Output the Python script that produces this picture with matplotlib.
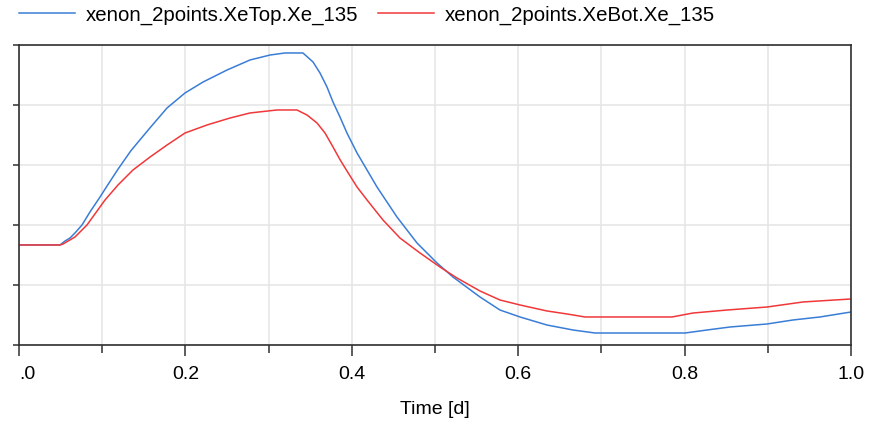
import matplotlib
matplotlib.use('Agg')
import matplotlib.pyplot as plt
from matplotlib.ticker import MultipleLocator

plt.rcParams['font.family'] = ['Liberation Sans', 'DejaVu Sans']

# values (y in grid units, axis has no visible labels)
t_top = [0.0, 0.0493, 0.0553, 0.0613, 0.0673, 0.0757, 0.0853, 0.0974, 0.1058, 0.1190,
         0.1346, 0.1575, 0.1779, 0.1995, 0.2212, 0.2500, 0.2776, 0.3017, 0.3197, 0.3413,
         0.3534, 0.3618, 0.3702, 0.3774, 0.3858, 0.3942, 0.4063, 0.4183, 0.4303, 0.4543,
         0.4784, 0.5024, 0.5216, 0.5541, 0.5781, 0.6022, 0.6346, 0.6659, 0.6923, 0.8005,
         0.8269, 0.8546, 0.8990, 0.9303, 0.9627, 1.0]
xe_top = [1.667, 1.667, 1.733, 1.783, 1.867, 2.0, 2.217, 2.467, 2.65, 2.93,
          3.24, 3.62, 3.95, 4.20, 4.383, 4.583, 4.75, 4.833, 4.867, 4.867,
          4.717, 4.533, 4.30, 4.05, 3.80, 3.533, 3.20, 2.917, 2.633, 2.133,
          1.70, 1.367, 1.133, 0.80, 0.583, 0.467, 0.333, 0.25, 0.20, 0.20,
          0.25, 0.30, 0.35, 0.417, 0.467, 0.55]

t_bot = [0.0, 0.0493, 0.0529, 0.0673, 0.0817, 0.1034, 0.1190, 0.1370, 0.1575, 0.1779,
         0.1995, 0.2260, 0.2536, 0.2776, 0.3101, 0.3341, 0.3462, 0.3582, 0.3678, 0.3762,
         0.3858, 0.3942, 0.4063, 0.4183, 0.4375, 0.4579, 0.4820, 0.5060, 0.5264, 0.5541,
         0.5781, 0.6022, 0.6346, 0.6587, 0.6803, 0.7849, 0.8101, 0.8510, 0.8990, 0.9423, 1.0]
xe_bot = [1.667, 1.667, 1.683, 1.80, 2.0, 2.417, 2.667, 2.917, 3.133, 3.333,
          3.533, 3.667, 3.783, 3.867, 3.917, 3.917, 3.833, 3.70, 3.533, 3.33,
          3.09, 2.90, 2.633, 2.417, 2.083, 1.783, 1.533, 1.30, 1.117, 0.90,
          0.75, 0.667, 0.567, 0.517, 0.467, 0.467, 0.533, 0.583, 0.633, 0.717, 0.767]

x_ticks = [0.0, 0.2, 0.4, 0.6, 0.8, 1.0]
x_labels = ['.0', '0.2', '0.4', '0.6', '0.8', '1.0']

fig = plt.figure(figsize=(8.69, 4.22), dpi=100)
ax = fig.add_axes([19 / 869, 1 - 345 / 422, 832 / 869, 300 / 422])

ax.plot(t_top, xe_top, color='#3a7dd6', lw=1.1, solid_joinstyle='round',
        label='xenon_2points.XeTop.Xe_135')
ax.plot(t_bot, xe_bot, color='#f0383a', lw=1.1, solid_joinstyle='round',
        label='xenon_2points.XeBot.Xe_135')

ax.set_xlim(0, 1)
ax.set_ylim(0, 5)
ax.set_xticks(x_ticks)
ax.set_xticklabels(x_labels, fontsize=14)
ax.xaxis.get_ticklabels()[0].set_horizontalalignment('left')
ax.xaxis.set_minor_locator(MultipleLocator(0.1))
ax.set_yticks(range(6))
ax.set_yticklabels([])

ax.grid(True, which='both', color='#e6e6e6', lw=1.2)
ax.set_axisbelow(True)
for s in ax.spines.values():
    s.set_color('#303030')
    s.set_linewidth(1.2)

ax.tick_params(axis='x', which='major', length=8, width=1.1, color='#303030', pad=7)
ax.tick_params(axis='x', which='minor', length=6, width=1.1, color='#303030')
ax.tick_params(axis='y', length=4, width=1.1, color='#303030')

ax.set_xlabel('Time [d]', fontsize=14)
ax.xaxis.set_label_coords(0.5, -0.215)
ax.xaxis.label.set_verticalalignment('center')

fig.legend(loc='center left', bbox_to_anchor=(19 / 869, 1 - 15 / 422), ncol=2,
           frameon=False, fontsize=14.7, handlelength=2.75, handletextpad=0.5,
           columnspacing=1.0, borderpad=0, borderaxespad=0)

fig.savefig('out.png', dpi=100)
